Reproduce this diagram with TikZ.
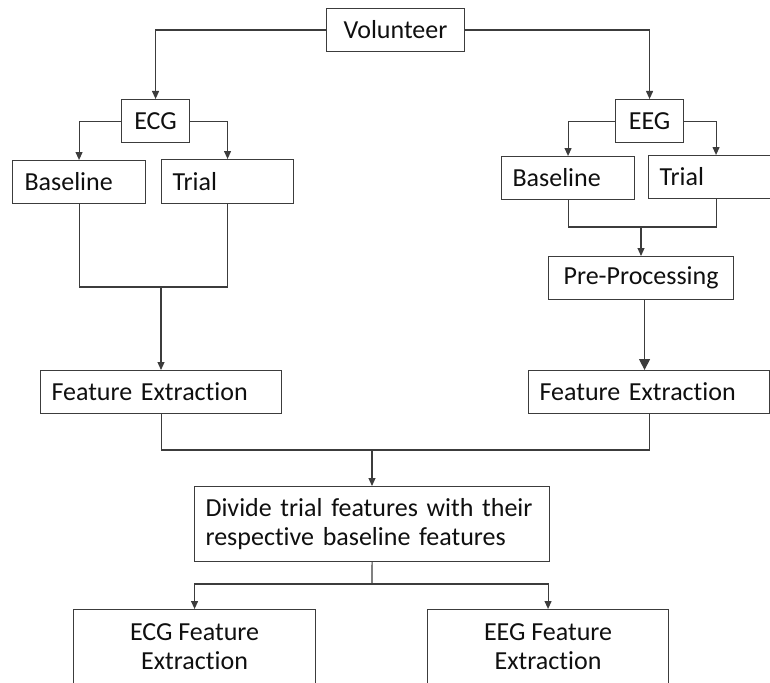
\documentclass[tikz,border=0pt]{standalone}
\usepackage{fontspec}
\setmainfont[Ligatures={NoCommon,NoRare}]{Carlito}
\usetikzlibrary{arrows.meta}
\definecolor{linec}{RGB}{60,60,60}
\definecolor{textc}{RGB}{15,15,15}
\tikzset{
  box/.style={draw=linec, line width=1.1pt, inner sep=0pt, anchor=north west, text=textc,
    font=\fontsize{26}{29}\selectfont},
  cbox/.style={box, align=center},
  lbox/.style={box, align=left},
  conn/.style={draw=linec, line width=1.1pt},
  arr/.style={conn, -{Triangle[width=7pt,length=8pt]}},
  bigarr/.style={conn, -{Triangle[width=11pt,length=11pt]}},
}
\begin{document}
\begin{tikzpicture}[x=1pt,y=-1pt]
\useasboundingbox (0,0) rectangle (770,682);
\clip (0,0) rectangle (770,682);
% boxes: position = top-left corner
\node[cbox, minimum width=138pt, minimum height=43pt] (vol) at (326,8) {Volunteer};
\node[cbox, minimum width=68pt, minimum height=43pt] (ecg) at (121,99) {ECG};
\node[cbox, minimum width=68pt, minimum height=43pt] (eeg) at (615,99) {EEG};
\node[lbox, inner xsep=12pt, text width=109pt, minimum height=43pt] (bl1) at (12,160) {Baseline};
\node[lbox, inner xsep=11pt, text width=110pt, minimum height=44pt] (tr1) at (161,159) {Trial};
\node[lbox, inner xsep=11pt, text width=111pt, minimum height=43pt] (bl2) at (501,156) {Baseline};
\node[lbox, inner xsep=11pt, text width=113pt, minimum height=43pt] (tr2) at (648,155) {Trial};
\node[cbox, minimum width=185pt, minimum height=43pt] (pre) at (548,256) {Pre-Processing};
\node[lbox, inner xsep=11pt, text width=219pt, minimum height=43pt] (fe1) at (40,370) {Feature Extraction};
\node[lbox, inner xsep=11pt, text width=219pt, minimum height=43pt] (fe2) at (528,370) {Feature Extraction};
\node[lbox, inner xsep=11pt, text width=333pt, minimum height=75pt] (div) at (194,486) {Divide trial features with their\\respective baseline features};
\node[cbox, minimum width=242pt, minimum height=75pt] (out1) at (73,609) {ECG Feature\\Extraction};
\node[cbox, minimum width=241pt, minimum height=75pt] (out2) at (427,609) {EEG Feature\\Extraction};
% coordinates
\coordinate (j1) at (161,287);
\coordinate (j2) at (641,227);
\coordinate (j3) at (372,450);
\coordinate (j4) at (372,584);
% connectors
\draw[arr] (vol.west) -| (ecg.north);
\draw[arr] (vol.east) -| (eeg.north);
\draw[arr] (ecg.west) -| (bl1.north);
\draw[arr] (ecg.east) -| (tr1.north);
\draw[arr] (eeg.west) -| (bl2.north);
\draw[arr] (eeg.east) -| (tr2.north);
\draw[conn] (bl1.south) |- (j1) -| (tr1.south);
\draw[arr] (j1) -- (j1 |- fe1.north);
\draw[conn] (bl2.south) |- (j2) -| (tr2.south);
\draw[arr] (j2) -- (j2 |- pre.north);
\draw[bigarr] ([xshift=3.5pt]pre.south) -- ([xshift=3.5pt]pre.south |- fe2.north);
\draw[conn] (fe1.south) |- (j3) -| (fe2.south);
\draw[arr] (j3) -- (j3 |- div.north);
\draw[conn] (div.south) -- (j4);
\draw[arr] (j4) -| (out1.north);
\draw[arr] (j4) -| (out2.north);
\end{tikzpicture}
\end{document}
